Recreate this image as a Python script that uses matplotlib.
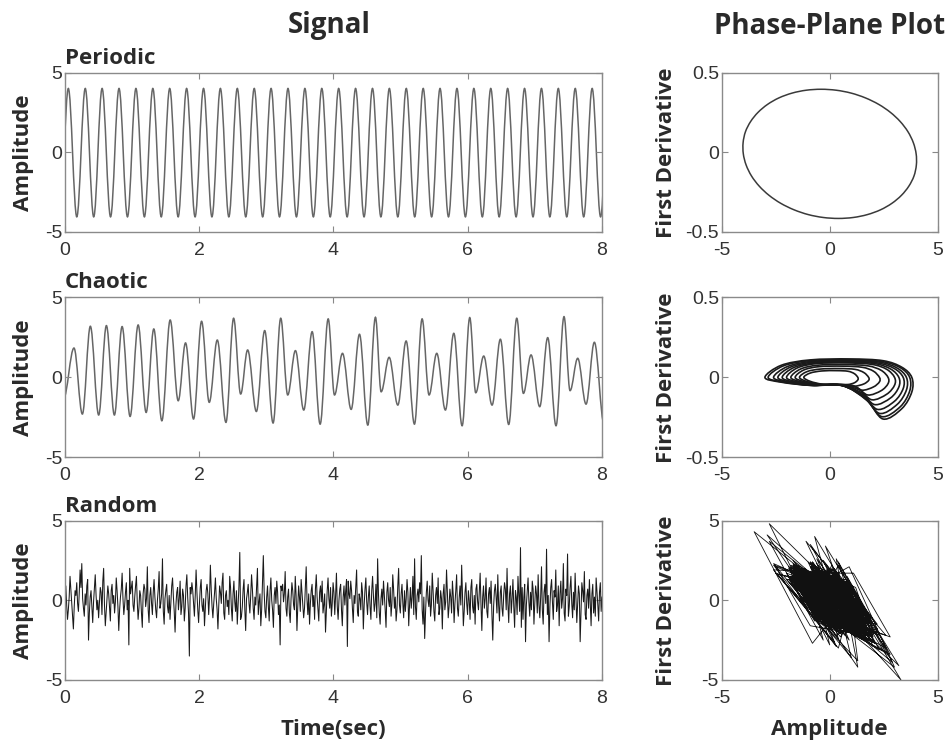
import numpy as np
import matplotlib
matplotlib.use("Agg")
import matplotlib.pyplot as plt
from matplotlib.path import Path
from matplotlib.patches import PathPatch

plt.rcParams["axes.unicode_minus"] = False
plt.rcParams["font.family"] = ["Liberation Sans", "DejaVu Sans"]

# --- data ------------------------------------------------------------------
# periodic signal: peaks and troughs (time, amplitude)
periodic_t = [-0.076, 0.050, 0.176, 0.302, 0.428, 0.553, 0.679, 0.805, 0.931,
              1.057, 1.183, 1.309, 1.434, 1.560, 1.686, 1.812, 1.938, 2.064,
              2.189, 2.315, 2.441, 2.567, 2.693, 2.819, 2.945, 3.070, 3.196,
              3.322, 3.448, 3.574, 3.700, 3.826, 3.951, 4.077, 4.203, 4.329,
              4.455, 4.581, 4.706, 4.832, 4.958, 5.084, 5.210, 5.336, 5.462,
              5.587, 5.713, 5.839, 5.965, 6.091, 6.217, 6.343, 6.468, 6.594,
              6.720, 6.846, 6.972, 7.098, 7.223, 7.349, 7.475, 7.601, 7.727,
              7.853, 7.979, 8.104]
periodic_v = [-4.05] + [4.0, -4.05] * 32 + [4.0]

# chaotic signal: successive extremes (time, amplitude)
chaotic_t = [-0.02, 0.134, 0.259, 0.378, 0.502, 0.617, 0.736, 0.851, 0.970,
             1.090, 1.209, 1.323, 1.443, 1.567, 1.687, 1.796, 1.915, 2.035,
             2.149, 2.269, 2.398, 2.512, 2.617, 2.721, 2.851, 2.975, 3.100,
             3.214, 3.318, 3.433, 3.557, 3.682, 3.801, 3.921, 4.015, 4.134,
             4.263, 4.387, 4.511, 4.625, 4.710, 4.829, 4.958, 5.082, 5.206,
             5.320, 5.424, 5.538, 5.667, 5.792, 5.916, 6.030, 6.119, 6.238,
             6.362, 6.486, 6.610, 6.730, 6.829, 6.943, 7.072, 7.191, 7.315,
             7.434, 7.524, 7.638, 7.762, 7.886, 8.03]
chaotic_v = [-1.3, 1.83, -2.29, 3.19, -2.35, 3.23, -2.35, 3.17, -2.44,
             3.27, -2.19, 3.02, -2.71, 3.58, -1.46, 2.15, -2.60, 3.50,
             -1.56, 2.33, -2.81, 3.69, -1.04, 1.71, -2.13, 2.92, -2.85,
             3.69, -1.10, 1.67, -2.04, 2.85, -2.92, 3.65, -1.10, 1.50,
             -2.00, 2.69, -2.98, 3.75, -0.90, 1.25, -1.73, 2.27, -2.92,
             3.65, -1.10, 1.50, -2.04, 2.75, -3.02, 3.73, -0.96, 1.33,
             -1.73, 2.38, -2.94, 3.69, -1.00, 1.40, -1.83, 2.48, -3.02,
             3.79, -0.83, 1.19, -1.67, 2.19, -2.9]

# random signal, 80 samples per second over 8 s (one row = 0.25 s)
random_v = [
    0.4, 0.9, -0.3, -1.2, -0.6, 0.2, 1.5, 0.7, -0.1, -0.9, -1.8, -0.4, 0.6, 0.3, 1.1, -0.2, -0.7, 0.5, 1.9, 0.8,
    2.3, 0.1, -0.5, -1.0, 0.4, -0.3, 0.9, 1.3, -2.5, -0.8, 0.2, 0.6, -0.4, -1.4, -0.1, 0.7, 1.6, 0.3, -0.6, 0.0,
    -1.1, -0.2, 0.8, 0.5, -0.9, 1.2, 2.0, -0.3, -1.6, -0.7, 0.1, 0.9, 0.4, -0.5, -1.3, 0.6, 1.0, -0.2, 0.3, -0.8,
    -0.1, 1.4, 0.6, -0.4, -1.9, -0.6, 0.2, 0.7, 1.7, 0.1, -0.9, -0.3, 0.5, 1.1, -0.6, 0.0, -2.8, 2.0, 0.4, 0.8,
    1.2, -0.3, -0.7, 0.2, 0.9, 1.5, -0.1, -1.2, -0.5, 0.6, 0.3, -0.8, -1.7, 0.4, 1.0, 0.7, -0.4, 0.1, 2.1, -0.6,
    -1.4, 0.3, 0.8, -0.2, -0.9, 0.5, 1.3, 0.2, -0.6, -1.1, 0.0, 0.7, 1.8, -0.5, -0.2, 0.4, 2.6, -0.7, -1.5, 0.1,
    0.6, 1.0, -0.4, -0.8, 0.3, -1.2, -0.1, 0.9, 1.4, 0.2, -0.7, -2.0, -0.3, 0.5, 0.8, -0.6, 0.1, 1.2, -0.9, -0.4,
    0.7, 0.3, -1.3, -0.5, 0.9, 1.6, 0.2, -0.8, -3.5, 0.8, 0.4, 1.1, 0.6, -0.2, -1.0, 0.3, 1.9, 0.5, -0.6, -1.4,
    -0.2, 0.8, 1.3, -0.3, -0.7, 0.1, -1.6, -0.5, 0.6, 1.0, 0.4, -0.9, 0.2, 2.2, 0.7, -0.4, -1.1, -0.2, 0.5, 1.4,
    0.1, -0.6, -1.8, -0.3, 0.9, 0.5, -0.2, 1.1, 1.7, -0.8, -1.2, 0.3, 0.6, -0.4, 0.0, -0.9, 1.5, 0.8, -0.5, -1.3,
    0.4, 1.2, -0.1, -0.7, 0.6, -1.5, -0.3, 0.9, 3.0, -1.2, -1.0, -0.4, 0.7, 1.3, -0.6, -1.9, 0.1, 0.5, 1.0, -0.2,
    -0.8, 0.3, 1.6, 0.7, -0.5, -1.2, 0.2, -0.3, 0.8, 2.0, -0.9, -0.1, 0.4, -1.6, -0.6, 1.1, 2.8, 0.5, -0.7, -1.1,
    0.2, 0.9, -0.4, -1.3, 0.6, 1.4, 0.0, -0.6, -1.7, 0.3, 0.8, -0.2, 1.2, 0.5, -0.9, -0.3, -2.8, 0.9, 0.6, 1.0,
    -0.1, 0.4, 1.8, -0.5, -1.0, 0.2, 0.7, -0.8, -1.4, 0.1, 1.1, 0.6, -0.3, -0.6, 1.5, 0.3, -1.9, -0.4, 0.9, 0.2,
    -0.7, 1.3, 0.5, -0.2, -1.1, -0.5, 0.8, 2.1, 0.0, -0.9, 0.4, -1.5, -0.2, 0.6, 1.0, -0.4, 0.3, -1.2, 0.7, 1.6,
    0.2, -0.6, -1.3, 0.5, 0.9, -0.1, 1.2, -0.8, -0.3, 0.4, -2.0, -0.7, 0.6, 1.4, 0.1, -0.5, 0.8, -1.0, -0.2, 1.1,
    0.5, -0.9, 0.3, 1.7, -0.4, -1.2, 0.0, 0.7, 1.0, -0.6, -1.6, 0.2, 0.9, -0.3, 0.6, 1.3, -2.9, 1.2, 0.4, 0.1,
    1.2, 0.6, -0.5, -1.4, 0.3, -0.2, 0.8, 1.9, -0.7, -1.0, 0.4, 0.1, -0.6, 1.1, 0.5, -1.8, -0.3, 0.7, 1.4, -0.1,
    -0.9, 0.2, 0.9, -0.4, -1.2, 0.6, 1.5, 0.3, -0.7, -0.2, 1.0, -1.1, 2.6, 0.4, -0.8, -1.5, 0.1, 0.7, -0.3, 1.2,
    0.3, -0.6, -1.7, 0.5, 1.1, 0.0, -0.4, 0.8, -1.0, -0.2, 1.6, 0.7, -0.5, 0.2, -1.3, -0.6, 0.9, 2.0, -0.3, -0.8,
    0.4, 1.0, -0.2, -1.1, 0.6, -0.7, 0.1, 1.3, 0.5, -1.6, -0.3, 0.8, -0.5, 0.2, 1.5, -0.9, 2.6, -0.4, -1.2, 0.3,
    0.7, -0.1, 1.1, 0.4, 2.8, -0.6, -1.5, 0.2, -2.4, -0.8, 0.5, 1.2, 0.0, -0.4, 0.9, -1.0, -0.3, 1.7, 0.6, -0.7,
    -1.3, 0.3, 0.8, -0.2, 1.4, -0.9, -0.5, 0.6, 0.1, -1.8, 0.4, 1.0, -0.6, -0.1, 1.9, 0.5, -1.1, -0.4, 0.7, 0.2,
    -0.8, 1.2, 0.3, -1.4, -0.2, 0.6, 1.6, -0.5, -1.0, 0.1, 0.9, -0.3, 2.2, 0.4, -1.6, -0.7, 0.5, 1.1, -0.2, -0.9,
    0.6, 0.0, -1.2, 0.8, 1.3, -0.4, -0.8, 0.3, -1.5, 0.7, 1.0, -0.1, -0.6, 0.5, 1.7, -0.3, -1.9, 0.2, 0.9, -0.5,
    0.1, 1.4, -0.7, -1.1, 0.4, 0.8, -0.2, 1.2, -0.9, -2.5, -0.4, 0.6, 1.0, 0.2, -0.8, 1.6, -0.3, -1.3, 0.5, 0.9,
    -0.5, -1.0, 0.3, 1.1, 0.7, -0.6, 2.0, -0.2, -1.4, 0.4, 0.9, -0.8, 0.1, 1.3, -0.4, -1.7, 0.6, 0.2, -0.9, 1.5,
    0.3, -0.7, 3.3, -1.7, 0.8, -1.2, 0.2, 1.0, -2.6, -0.3, 0.6, 1.4, -0.1, -1.0, 0.5, -0.6, 1.2, 0.7, -1.5, -0.2,
    0.9, 0.4, -0.8, 1.6, -0.3, -1.1, 0.2, 2.1, -0.6, -1.5, 0.5, 1.0, -0.2, 3.2, -0.9, 0.3, -2.6, -0.4, 0.8, 1.3,
    -0.1, -1.2, 0.6, 0.2, 1.9, -0.7, -0.3, 0.9, -1.6, 0.4, 1.2, -0.5, 0.1, 2.3, -0.8, -1.3, 0.7, 0.3, 2.9, -1.0,
    -0.4, 0.8, 1.5, -0.2, -1.1, 0.5, -0.6, 1.7, 0.2, -1.4, -0.3, 0.9, 0.4, -2.6, -0.7, 1.1, 0.6, -0.1, 1.8, -0.9,
    -1.2, 0.3, 0.7, -0.5, 1.3, -0.2, -1.6, 0.4, 1.0, -0.8, 0.2, -1.0, 1.4, 0.6, -0.3, -1.3, 0.5, 1.1, -0.7, 0.2,
]

# periodic phase plane: closed orbit (amplitude, derivative)
periodic_phase = [
    (4.00, -0.010), (3.87, 0.060), (3.62, 0.129), (3.26, 0.193), (2.81, 0.250),
    (2.27, 0.300), (1.65, 0.341), (0.99, 0.371), (0.30, 0.389), (-0.40, 0.395),
    (-1.09, 0.389), (-1.74, 0.371), (-2.35, 0.341), (-2.88, 0.300), (-3.32, 0.250),
    (-3.66, 0.193), (-3.90, 0.129), (-4.01, 0.060), (-4.00, -0.010), (-3.87, -0.080),
    (-3.62, -0.149), (-3.26, -0.213), (-2.81, -0.270), (-2.27, -0.320), (-1.65, -0.361),
    (-0.99, -0.391), (-0.30, -0.409), (0.40, -0.415), (1.09, -0.409), (1.74, -0.391),
    (2.35, -0.361), (2.88, -0.320), (3.32, -0.270), (3.66, -0.213), (3.90, -0.149),
    (4.01, -0.080),
]

# chaotic phase plane: nested loops of the attractor (amplitude, derivative)
chaotic_phase_loops = [
    [(3.80, 0.000), (3.34, 0.063), (2.47, 0.104), (0.95, 0.115), (-0.90, 0.109),
     (-2.25, 0.075), (-3.00, 0.000), (-2.25, -0.030), (-0.90, -0.050), (0.57, -0.050),
     (1.71, -0.143), (2.47, -0.260), (3.34, -0.195), (3.80, -0.091)],
    [(3.70, 0.000), (3.26, 0.061), (2.41, 0.099), (0.93, 0.110), (-0.86, 0.105),
     (-2.14, 0.072), (-2.85, 0.000), (-2.14, -0.030), (-0.86, -0.050), (0.56, -0.050),
     (1.67, -0.135), (2.41, -0.245), (3.26, -0.184), (3.70, -0.086)],
    [(3.55, 0.000), (3.12, 0.058), (2.31, 0.095), (0.89, 0.105), (-0.78, 0.100),
     (-1.95, 0.068), (-2.60, 0.000), (-1.95, -0.030), (-0.78, -0.050), (0.53, -0.050),
     (1.60, -0.124), (2.31, -0.225), (3.12, -0.169), (3.55, -0.079)],
    [(3.40, 0.000), (2.99, 0.055), (2.21, 0.090), (0.85, 0.100), (-0.72, 0.095),
     (-1.80, 0.065), (-2.40, 0.000), (-1.80, -0.030), (-0.72, -0.050), (0.51, -0.050),
     (1.53, -0.110), (2.21, -0.200), (2.99, -0.150), (3.40, -0.070)],
    [(3.20, 0.000), (2.82, 0.052), (2.08, 0.086), (0.80, 0.095), (-0.66, 0.090),
     (-1.65, 0.062), (-2.20, 0.000), (-1.65, -0.029), (-0.66, -0.048), (0.48, -0.048),
     (1.44, -0.094), (2.08, -0.170), (2.82, -0.128), (3.20, -0.060)],
    [(3.00, 0.000), (2.64, 0.050), (1.95, 0.081), (0.75, 0.090), (-0.60, 0.086),
     (-1.50, 0.059), (-2.00, 0.000), (-1.50, -0.028), (-0.60, -0.047), (0.45, -0.047),
     (1.35, -0.077), (1.95, -0.140), (2.64, -0.105), (3.00, -0.049)],
    [(2.70, 0.000), (2.38, 0.044), (1.76, 0.072), (0.68, 0.080), (-0.54, 0.076),
     (-1.35, 0.052), (-1.80, 0.000), (-1.35, -0.027), (-0.54, -0.045), (0.41, -0.045),
     (1.22, -0.061), (1.76, -0.110), (2.38, -0.083), (2.70, -0.039)],
    [(2.30, 0.000), (2.02, 0.039), (1.50, 0.063), (0.58, 0.070), (-0.48, 0.067),
     (-1.20, 0.046), (-1.60, 0.000), (-1.20, -0.026), (-0.48, -0.044), (0.35, -0.044),
     (1.04, -0.050), (1.50, -0.080), (2.02, -0.060), (2.30, -0.028)],
    [(1.80, 0.000), (1.58, 0.030), (1.17, 0.050), (0.45, 0.055), (-0.42, 0.052),
     (-1.05, 0.036), (-1.40, 0.000), (-1.05, -0.026), (-0.42, -0.043), (0.27, -0.045),
     (0.81, -0.048), (1.17, -0.055), (1.58, -0.041), (1.80, -0.019)],
    [(1.30, 0.000), (1.14, 0.023), (0.85, 0.038), (0.33, 0.042), (-0.36, 0.040),
     (-0.90, 0.027), (-1.20, 0.000), (-0.90, -0.025), (-0.36, -0.042), (0.20, -0.043),
     (0.59, -0.045), (0.85, -0.045), (1.14, -0.034), (1.30, -0.016)],
]

signal_names = ["Periodic", "Chaotic", "Random"]
time_ticks = [0, 2, 4, 6, 8]
amp_ticks = [-5, 0, 5]
phase_x_ticks = [-5, 0, 5]
small_ticks = [-0.5, 0, 0.5]
small_ticklabels = ["-0.5", "0", "0.5"]


def wave_path(ts, vs, k=0.36):
    # smooth curve through extremes, flat tangent at each peak/trough
    verts = [(ts[0], vs[0])]
    codes = [Path.MOVETO]
    for i in range(len(ts) - 1):
        d = (ts[i + 1] - ts[i]) * k
        verts += [(ts[i] + d, vs[i]), (ts[i + 1] - d, vs[i + 1]), (ts[i + 1], vs[i + 1])]
        codes += [Path.CURVE4] * 3
    return Path(verts, codes)


def loop_path(pts):
    p = np.asarray(pts, dtype=float)
    n = len(p)
    verts = [tuple(p[0])]
    codes = [Path.MOVETO]
    for i in range(n):
        p0, p1, p2, p3 = p[i - 1], p[i], p[(i + 1) % n], p[(i + 2) % n]
        verts += [tuple(p1 + (p2 - p0) / 6), tuple(p2 - (p3 - p1) / 6), tuple(p2)]
        codes += [Path.CURVE4] * 3
    return Path(verts, codes)


def style(ax, xlim, ylim, xticks, yticks):
    ax.set_xlim(xlim)
    ax.set_ylim(ylim)
    ax.set_xticks(xticks)
    ax.set_yticks(yticks)
    ax.tick_params(direction="in", top=True, right=True, length=4, width=0.8,
                   color="#888888", labelsize=14, labelcolor="#333333")
    ax.tick_params(axis="x", pad=7)
    ax.tick_params(axis="y", pad=2)
    for s in ax.spines.values():
        s.set_color("#8a8a8a")
        s.set_linewidth(1.0)


bold = dict(family=["Open Sans", "DejaVu Sans"], fontweight="bold", color="#2a2a2a")

fig = plt.figure(figsize=(9.5, 7.4), dpi=100)
rows = [(0.6865, 0.2155), (0.3818, 0.2165), (0.0811, 0.2155)]
sig_axes = [fig.add_axes([0.0684, b, 0.5653, h]) for b, h in rows]
ph_axes = [fig.add_axes([0.7597, b, 0.2274, h]) for b, h in rows]

# signals
ax = sig_axes[0]
ax.add_patch(PathPatch(wave_path(periodic_t, periodic_v), fill=False,
                       edgecolor="#666666", lw=1.1))
ax = sig_axes[1]
ax.add_patch(PathPatch(wave_path(chaotic_t, chaotic_v), fill=False,
                       edgecolor="#666666", lw=1.1))
random_t = np.linspace(0, 8, len(random_v))
sig_axes[2].plot(random_t, random_v, color="#1a1a1a", lw=0.75)

for ax, name in zip(sig_axes, signal_names):
    style(ax, (0, 8), (-5, 5), time_ticks, amp_ticks)
    ax.set_ylabel("Amplitude", fontsize=16, **bold)
    ax.yaxis.set_label_coords(-0.058, 0.5)
    ax.text(0.0, 1.025, name, transform=ax.transAxes, fontsize=16,
            ha="left", va="bottom", **bold)

# phase planes
ax = ph_axes[0]
ax.add_patch(PathPatch(loop_path(periodic_phase), fill=False,
                       edgecolor="#3a3a3a", lw=1.1))
style(ax, (-5, 5), (-0.5, 0.5), phase_x_ticks, small_ticks)
ax.set_yticklabels(small_ticklabels)

ax = ph_axes[1]
for loop in chaotic_phase_loops:
    ax.add_patch(PathPatch(loop_path(loop), fill=False, edgecolor="#1a1a1a", lw=1.2))
style(ax, (-5, 5), (-0.5, 0.5), phase_x_ticks, small_ticks)
ax.set_yticklabels(small_ticklabels)

ax = ph_axes[2]
rv = np.asarray(random_v)
ax.plot(rv[:-1], np.diff(rv), color="#111111", lw=0.6)
style(ax, (-5, 5), (-5, 5), phase_x_ticks, amp_ticks)

for ax in ph_axes:
    ax.set_ylabel("First Derivative", fontsize=16, **bold)
    ax.yaxis.set_label_coords(-0.205, 0.5)

sig_axes[2].set_xlabel("Time(sec)", fontsize=16, labelpad=9, **bold)
ph_axes[2].set_xlabel("Amplitude", fontsize=16, labelpad=9, **bold)

fig.text(0.347, 1 - 25 / 740, "Signal", fontsize=20, ha="center", va="center", **bold)
fig.text(0.8734, 1 - 26 / 740, "Phase-Plane Plot", fontsize=20, ha="center",
         va="center", **bold)

fig.savefig("out.png", dpi=100, facecolor="white")
